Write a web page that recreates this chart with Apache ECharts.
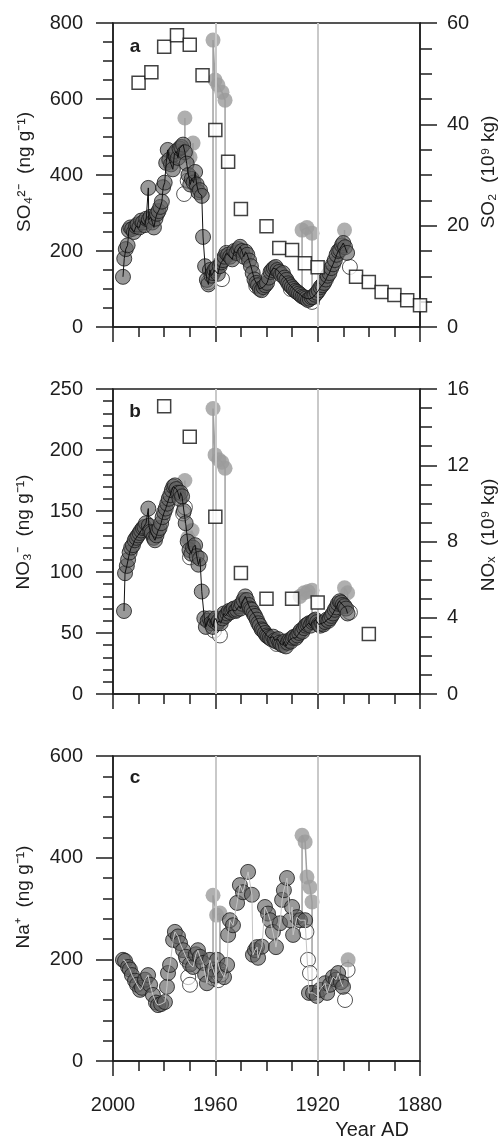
<!DOCTYPE html>
<html>
<head>
<meta charset="utf-8">
<script src="https://cdn.jsdelivr.net/npm/echarts@6.0.0/dist/echarts.min.js"></script>
<style>
  html, body { margin: 0; padding: 0; background: #fff; }
  #chart { width: 500px; height: 1139px; }
</style>
</head>
<body>
<div id="chart"></div>
<script>
// ---- data: [year AD, value] ----
// a: sulphate (ng/g) and SO2 emissions (10^9 kg)
const so4Dark = [
  [1996.1,132],[1995.6,180],[1995.0,205],[1994.3,215],[1993.8,255],[1993.2,262],[1992.5,258],[1991.8,250],
  [1991.0,265],[1990.4,270],[1989.7,262],[1989.0,280],[1988.3,275],[1987.6,268],[1987.0,285],[1986.2,366],
  [1986.0,282],[1985.3,290],[1984.6,275],[1984.0,262],[1983.4,285],[1982.8,298],[1982.2,305],[1981.5,316],
  [1980.9,330],[1980.4,368],[1979.8,380],[1979.2,432],[1978.6,466],[1978.0,440],[1977.3,428],[1976.6,415],
  [1976.0,455],[1975.3,462],[1974.6,445],[1974.0,470],[1973.3,474],[1972.6,480],[1971.9,460],[1971.2,430],
  [1970.5,400],[1969.8,375],[1969.2,390],[1968.5,380],[1967.9,408],[1967.3,375],[1966.6,355],[1966.0,360],
  [1965.3,345],[1964.8,237],[1964.0,160],[1963.3,124],[1962.7,112],[1962.1,150],[1961.5,135],[1960.9,142],
  [1960.3,150],[1959.6,155],[1959.0,140],[1958.3,160],[1957.7,170],[1957.0,176],[1956.4,185],[1955.7,195],
  [1955.0,190],[1954.2,185],[1953.4,178],[1952.6,200],[1951.8,195],[1951.0,205],[1950.3,211],[1949.6,200],
  [1948.9,185],[1948.2,198],[1947.5,190],[1946.8,175],[1946.1,160],[1945.4,142],[1944.7,125],[1944.0,116],
  [1943.3,110],[1942.6,100],[1941.9,97],[1941.2,105],[1940.5,110],[1939.8,116],[1939.1,130],[1938.4,145],
  [1937.8,150],[1937.1,155],[1936.4,158],[1935.7,150],[1935.0,145],[1934.3,138],[1933.6,142],[1932.9,130],
  [1932.2,124],[1931.5,115],[1930.8,110],[1930.1,105],[1929.4,100],[1928.7,95],[1928.0,92],[1927.3,88],
  [1926.6,84],[1925.9,80],[1925.2,78],[1924.5,75],[1923.8,71],[1923.1,74],[1922.4,78],[1921.7,79],
  [1921.0,85],[1920.3,90],[1919.6,97],[1918.9,105],[1918.2,110],[1917.5,116],[1916.8,125],[1916.1,135],
  [1915.4,142],[1914.7,155],[1914.0,165],[1913.3,176],[1912.6,190],[1911.9,200],[1911.2,203],[1910.5,215],
  [1910.0,221],[1909.3,210],[1908.5,195]
];
const so4Open = [[1972.2,350],[1970.8,385],[1962.7,118],[1957.4,126],[1944.0,108],[1930.5,100],[1922.2,66],[1907.4,158]];
const so4Grey = [
  [[1971.9,550]],
  [[1969.9,447],[1968.7,484]],
  [[1960.9,755],[1960.1,650],[1959.0,637],[1957.4,618],[1956.2,597]],
  [[1926.1,255],[1924.2,262],[1922.2,247]],
  [[1909.5,255]]
];
const so2Years = [1990,1985,1980,1975,1970,1965,1960,1955,1950,1940,1935,1930,1925,1920,1905,1900,1895,1890,1885,1880];
const so2Vals = [48.2,50.3,55.3,57.6,55.7,49.7,38.9,32.6,23.3,19.9,15.6,15.2,12.6,11.8,9.9,8.9,6.9,6.3,5.3,4.3];

// b: nitrate (ng/g) and NOx emissions (10^9 kg)
const no3Dark = [
  [1995.7,68],[1995.3,99],[1994.6,105],[1994.1,110],[1993.5,116],[1992.9,120],[1992.2,122],[1991.5,126],
  [1990.9,128],[1990.2,130],[1989.6,132],[1989.0,134],[1988.3,136],[1987.7,137],[1987.1,140],[1986.2,152],
  [1986.0,138],[1985.4,133],[1984.8,132],[1984.1,128],[1983.6,126],[1983.0,130],[1982.4,134],[1981.8,136],
  [1981.2,140],[1980.6,145],[1980.0,149],[1979.4,152],[1978.8,156],[1978.2,160],[1977.6,163],[1977.0,167],
  [1976.4,170],[1975.8,171],[1975.2,168],[1974.6,165],[1974.0,160],[1973.6,165],[1973.0,162],[1972.3,150],
  [1971.6,140],[1970.8,125],[1970.1,118],[1969.4,115],[1968.7,120],[1967.9,122],[1967.3,113],[1966.6,106],
  [1966.0,111],[1965.3,84],[1964.3,62],[1963.7,55],[1963.0,60],[1962.3,62],[1961.6,58],[1961.0,55],
  [1960.4,60],[1959.8,62],[1959.2,58],[1958.6,60],[1957.9,58],[1957.2,62],[1956.6,66],[1956.0,64],
  [1955.3,66],[1954.7,68],[1954.1,67],[1953.4,69],[1952.8,70],[1952.1,68],[1951.5,69],[1950.8,72],
  [1950.2,70],[1949.6,74],[1949.0,77],[1948.3,80],[1947.7,77],[1947.0,73],[1946.4,70],[1945.8,69],
  [1945.1,66],[1944.5,64],[1943.8,61],[1943.2,58],[1942.6,56],[1941.9,53],[1941.3,52],[1940.6,50],
  [1940.0,48],[1939.4,47],[1938.7,46],[1938.1,45],[1937.4,47],[1936.8,44],[1936.2,43],[1935.5,45],
  [1934.9,42],[1934.3,41],[1933.6,40],[1933.0,43],[1932.4,39],[1931.7,42],[1931.1,44],[1930.5,43],
  [1929.8,46],[1929.2,47],[1928.5,46],[1927.9,48],[1927.2,50],[1926.6,52],[1926.0,51],[1925.3,54],
  [1924.7,56],[1924.0,57],[1923.4,58],[1922.8,56],[1922.1,59],[1921.5,60],[1920.9,61],[1920.2,59],
  [1919.6,57],[1919.0,56],[1918.3,58],[1917.7,57],[1917.1,59],[1916.4,61],[1915.8,60],[1915.2,62],
  [1914.6,64],[1914.0,66],[1913.3,69],[1912.7,71],[1912.1,74],[1911.4,76],[1910.8,75],[1910.2,73],
  [1909.5,72],[1908.9,70],[1908.3,66]
];
const no3Open = [[1972.6,148],[1971.9,153],[1969.9,112],[1960.5,52],[1958.2,48],[1936.0,41],[1907.4,67]];
const no3Grey = [
  [[1971.9,175]],
  [[1970.7,128],[1969.1,134]],
  [[1960.9,234],[1960.1,196],[1958.6,192],[1957.4,190],[1956.2,185]],
  [[1926.9,80],[1925.3,83],[1923.8,84],[1922.2,85]],
  [[1909.5,87],[1908.3,83]]
];
const noxYears = [1980,1970,1960,1950,1940,1930,1920,1900];
const noxVals = [15.1,13.5,9.3,6.35,5.0,5.0,4.8,3.15];

// c: sodium (ng/g)
const naDark = [
  [1996.1,199],[1995.3,197],[1994.1,185],[1993.4,180],[1992.6,169],[1991.4,158],[1990.6,150],[1989.4,140],
  [1988.7,144],[1987.5,160],[1986.3,169],[1985.5,150],[1984.4,130],[1983.2,115],[1982.4,110],[1981.2,112],
  [1979.7,116],[1978.9,146],[1978.5,173],[1977.7,189],[1976.5,238],[1975.8,254],[1974.6,245],[1973.8,232],
  [1972.6,218],[1971.5,205],[1969.9,190],[1968.7,185],[1967.6,210],[1966.8,218],[1966.0,205],[1964.8,193],
  [1964.0,170],[1963.3,153],[1962.1,199],[1960.9,180],[1960.1,168],[1959.3,199],[1958.2,179],[1956.6,165],
  [1955.4,189],[1955.0,248],[1954.3,277],[1953.1,267],[1951.5,311],[1950.4,346],[1949.2,332],[1947.2,372],
  [1945.7,327],[1945.3,209],[1944.5,218],[1943.7,224],[1943.3,203],[1941.8,225],[1940.6,303],[1939.4,290],
  [1938.6,277],[1937.5,254],[1936.3,224],[1934.7,271],[1933.9,317],[1933.2,336],[1932.0,360],[1930.8,277],
  [1930.0,303],[1929.6,248],[1928.1,283],[1926.9,277],[1924.9,277],[1923.4,134],[1921.8,134],[1920.3,128],
  [1919.1,140],[1917.1,153],[1916.3,134],[1915.2,150],[1914.0,165],[1912.8,160],[1912.0,173],[1910.9,155],
  [1910.1,146]
];
const naOpen = [[1971.1,199],[1970.6,165],[1969.9,150],[1960.9,163],[1958.9,159],[1957.8,170],[1924.4,254],[1923.8,199],[1923.0,173],[1908.3,179],[1909.3,120]];
const naGrey = [
  [[1960.9,326],[1959.5,287],[1958.2,291]],
  [[1926.1,444],[1924.9,431],[1924.2,362],[1923.0,342],[1922.2,313]],
  [[1908.1,199]]
];

const xTickLabels = ['2000', '1960', '1920', '1880'];
const refYears = [1960, 1920];

// ---- chart ----
const FONT = 'Liberation Sans, Arial, Helvetica, sans-serif';
const INK = '#1e1e1e';

function greyPath(dark, groups) {
  // raw record: leaves the corrected curve, runs through the spikes, comes back
  const near = yr => dark.reduce((a, b) => Math.abs(b[0] - yr) < Math.abs(a[0] - yr) ? b : a);
  const out = [];
  groups.forEach(g => {
    const f = g[0], l = g[g.length - 1];
    out.push([f[0], near(f[0])[1]]);
    g.forEach(p => out.push(p));
    out.push([l[0], near(l[0])[1]]);
    out.push([l[0], '-']);
  });
  return out;
}

function panel(gi, yi, dark, open, grey, lineColor) {
  return [
    {
      type: 'line', xAxisIndex: gi, yAxisIndex: yi, z: 1,
      data: greyPath(dark, grey), symbol: 'none', connectNulls: false,
      lineStyle: { color: '#a0a0a0', width: 1.5 },
      markLine: {
        silent: true, symbol: ['none', 'none'], label: { show: false },
        lineStyle: { color: '#c9c9c9', width: 2, type: 'solid' },
        data: refYears.map(y => ({ xAxis: y }))
      }
    },
    {
      type: 'scatter', xAxisIndex: gi, yAxisIndex: yi, z: 2,
      data: open, symbol: 'circle', symbolSize: 15,
      itemStyle: { color: 'rgba(255,255,255,0.75)', borderColor: '#2a2a2a', borderWidth: 1 }
    },
    {
      type: 'scatter', xAxisIndex: gi, yAxisIndex: yi, z: 3,
      data: [].concat(...grey), symbol: 'circle', symbolSize: 15,
      itemStyle: { color: '#9b9b9b' }
    },
    {
      type: 'scatter', xAxisIndex: gi, yAxisIndex: yi, z: 4,
      data: dark, symbol: 'circle', symbolSize: 15,
      itemStyle: { color: 'rgba(95,95,95,0.8)', borderColor: '#1a1a1a', borderWidth: 1 }
    },
    {
      type: 'line', xAxisIndex: gi, yAxisIndex: yi, z: 5,
      data: dark, symbol: 'none',
      lineStyle: { color: lineColor, width: 1 }
    }
  ];
}

function squares(gi, yi, years, vals) {
  return {
    type: 'scatter', xAxisIndex: gi, yAxisIndex: yi, z: 6,
    data: years.map((y, i) => [y, vals[i]]),
    symbol: 'rect', symbolSize: 13,
    itemStyle: { color: '#fff', borderColor: '#111', borderWidth: 1.5 }
  };
}

const grids = [
  { left: 113, top: 23, width: 307, height: 304 },
  { left: 113, top: 389, width: 307, height: 305 },
  { left: 113, top: 756, width: 307, height: 305 }
].map(g => Object.assign(g, { show: true, borderColor: INK, borderWidth: 1.5, backgroundColor: 'transparent' }));

function xAxis(gi, labels) {
  return {
    type: 'value', gridIndex: gi, min: 1880, max: 2000, interval: 40, inverse: true,
    axisLine: { lineStyle: { color: INK, width: 1.5 } },
    axisTick: { show: true, inside: false, length: 15, lineStyle: { color: INK, width: 1.5 } },
    minorTick: { show: true, splitNumber: 4, length: 10, lineStyle: { color: INK, width: 1.5 } },
    splitLine: { show: false },
    axisLabel: {
      show: labels, margin: 34, fontSize: 20, color: INK, fontFamily: FONT,
      formatter: v => xTickLabels[(2000 - v) / 40]
    }
  };
}

function yAxis(gi, pos, max, interval, minor, margin) {
  return {
    type: 'value', gridIndex: gi, position: pos, min: 0, max: max, interval: interval,
    axisLine: { show: true, lineStyle: { color: INK, width: 1.5 } },
    axisTick: { show: true, inside: false, length: 17, lineStyle: { color: INK, width: 1.5 } },
    minorTick: { show: true, splitNumber: minor, length: pos === 'left' ? 10 : 12, lineStyle: { color: INK, width: 1.5 } },
    splitLine: { show: false },
    axisLabel: { margin: margin, fontSize: 20, color: INK, fontFamily: FONT }
  };
}

function label(text, x, y, size, rot, weight) {
  return {
    type: 'text', x: x, y: y, rotation: rot || 0,
    style: {
      text: text, fill: INK, font: (weight || 'normal') + ' ' + size + 'px ' + FONT,
      textAlign: 'center', textVerticalAlign: 'middle', verticalAlign: 'middle'
    }
  };
}

const chart = echarts.init(document.getElementById('chart'));
chart.setOption({
  animation: false,
  backgroundColor: '#fff',
  grid: grids,
  xAxis: [xAxis(0, false), xAxis(1, false), xAxis(2, true)],
  yAxis: [
    yAxis(0, 'left', 800, 200, 4, 30),
    yAxis(0, 'right', 60, 20, 4, 27),
    yAxis(1, 'left', 250, 50, 5, 30),
    yAxis(1, 'right', 16, 4, 4, 27),
    yAxis(2, 'left', 600, 200, 5, 30)
  ],
  series: [].concat(
    panel(0, 0, so4Dark, so4Open, so4Grey, '#111'),
    [squares(0, 1, so2Years, so2Vals)],
    panel(1, 2, no3Dark, no3Open, no3Grey, '#111'),
    [squares(1, 3, noxYears, noxVals)],
    panel(2, 4, naDark, naOpen, naGrey, '#c4c4c4')
  ),
  graphic: [
    label('a', 135, 47, 19, 0, 'bold'),
    label('b', 135, 412, 19, 0, 'bold'),
    label('c', 135, 778, 19, 0, 'bold'),
    label('SO\u2084\u00B2\u207B  (ng g\u207B\u00B9)', 25, 172, 19, Math.PI / 2),
    label('SO\u2082  (10\u2079 kg)', 489, 172, 19, Math.PI / 2),
    label('NO\u2083\u207B  (ng g\u207B\u00B9)', 24, 532, 19, Math.PI / 2),
    label('NO\u2093  (10\u2079 kg)', 489, 535, 19, Math.PI / 2),
    label('Na\u207A  (ng g\u207B\u00B9)', 24, 897, 19, Math.PI / 2),
    label('Year AD', 372, 1130, 20)
  ]
});
</script>
</body>
</html>
